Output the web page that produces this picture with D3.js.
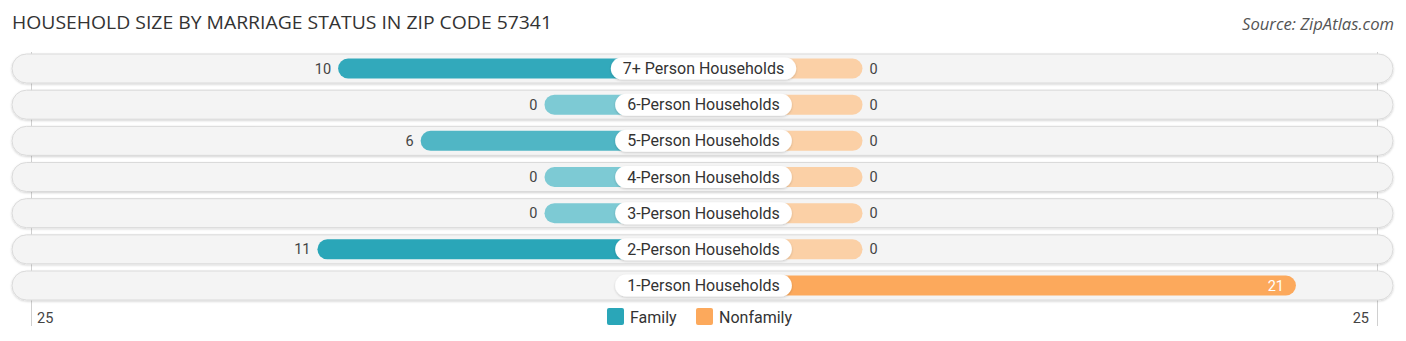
<!DOCTYPE html>
<html><head><meta charset="utf-8">
<script src="https://cdn.jsdelivr.net/npm/d3@7"></script>
<style>body{margin:0;background:#fff;}svg{display:block;}</style>
</head><body>
<script>
const categories = ["7+ Person Households","6-Person Households","5-Person Households","4-Person Households","3-Person Households","2-Person Households","1-Person Households"];
const family = [10,0,6,0,0,11,null];
const nonfamily = [0,0,0,0,0,0,21];
const axisTicks = [25];
const legendLabels = ["Family","Nonfamily"];

const W = 1406, H = 341;
const cx = 703.5;
const svg = d3.select("body").append("svg").attr("width", W).attr("height", H);

svg.append("text").attr("x", 12).attr("y", 29).text("HOUSEHOLD SIZE BY MARRIAGE STATUS IN ZIP CODE 57341")
  .attr("font-family", "'Open Sans', sans-serif").attr("font-size", 18).attr("fill", "#333")
  .attr("textLength", 540).attr("lengthAdjust", "spacingAndGlyphs");
svg.append("text").attr("x", 1394).attr("y", 30).attr("text-anchor", "end").text("Source: ZipAtlas.com")
  .attr("font-family", "'Open Sans', sans-serif").attr("font-style", "italic").attr("font-size", 15.5).attr("fill", "#555")
  .attr("textLength", 152).attr("lengthAdjust", "spacingAndGlyphs");

// distance from center
const len = d3.scaleLinear().domain([0, 25]).range([159, 675]);
const y = d3.scalePoint().domain(categories).range([68.5, 285.5]);
const famColor = d3.scaleLinear().domain([0, d3.max(family)]).range(["#7dcad4", "#2aa6b8"]);
const nonColor = d3.scaleLinear().domain([0, d3.max(nonfamily)]).range(["#fbd0a6", "#fca95c"]);

// grid lines
axisTicks.forEach(t => {
  [cx - len(t) + 2, cx + len(t) - 2].forEach(x => {
    svg.append("line").attr("x1", Math.round(x) + 0.5).attr("x2", Math.round(x) + 0.5).attr("y1", 52).attr("y2", 326)
      .attr("stroke", "#d0d0d0").attr("stroke-width", 1);
  });
});

const defs = svg.append("defs");
const f = defs.append("filter").attr("id", "sh").attr("x", "-5%").attr("y", "-30%").attr("width", "110%").attr("height", "160%");
f.append("feDropShadow").attr("dx", 0).attr("dy", 1).attr("stdDeviation", 1).attr("flood-color", "#000").attr("flood-opacity", 0.18);

const rows = svg.selectAll("g.row").data(categories).enter().append("g").attr("class", "row");

rows.append("rect").attr("x", 12).attr("width", 1381).attr("y", d => y(d) - 14.5).attr("height", 29)
  .attr("rx", 14.5).attr("fill", "#f4f4f4").attr("stroke", "#dadada").attr("stroke-width", 1).attr("filter", "url(#sh)");

rows.filter((d, i) => family[i] !== null)
  .append("rect").attr("x", d => cx - len(family[categories.indexOf(d)])).attr("width", d => len(family[categories.indexOf(d)]))
  .attr("y", d => y(d) - 10).attr("height", 20).attr("rx", 10).attr("fill", d => famColor(family[categories.indexOf(d)]));

rows.filter((d, i) => nonfamily[i] !== null)
  .append("rect").attr("x", cx).attr("width", d => len(nonfamily[categories.indexOf(d)]))
  .attr("y", d => y(d) - 10).attr("height", 20).attr("rx", 10).attr("fill", d => nonColor(nonfamily[categories.indexOf(d)]));

// label pills
rows.each(function(d, i) {
  const g = d3.select(this);
  const t = g.append("text").attr("x", cx).attr("y", y(d) + 5.5).attr("text-anchor", "middle")
    .attr("font-family", "Roboto, sans-serif").attr("font-size", 16).attr("fill", "#333").text(d);
  const w = t.node().getComputedTextLength() + 24;
  g.insert("rect", "text").attr("x", cx - w / 2).attr("width", w).attr("y", y(d) - 11).attr("height", 22)
    .attr("rx", 11).attr("fill", "#fff").attr("filter", "url(#sh)");
  if (family[i] !== null) {
    g.append("text").attr("x", cx - len(family[i]) - 7).attr("y", y(d) + 5).attr("text-anchor", "end")
      .attr("font-family", "Roboto, sans-serif").attr("font-size", 14.5).attr("fill", "#444").text(family[i]);
  }
  const nv = nonfamily[i];
  if (nv !== null) {
    const inside = nv >= 15;
    g.append("text").attr("x", inside ? cx + len(nv) - 12 : cx + len(nv) + 7).attr("y", y(d) + 5)
      .attr("text-anchor", inside ? "end" : "start")
      .attr("font-family", "Roboto, sans-serif").attr("font-size", 14.5).attr("fill", inside ? "#fff" : "#444").text(nv);
  }
});

// axis labels
svg.append("text").attr("x", 37).attr("y", 323).text(axisTicks[0])
  .attr("font-family", "Roboto, sans-serif").attr("font-size", 14.5).attr("fill", "#444");
svg.append("text").attr("x", 1369).attr("y", 323).attr("text-anchor", "end").text(axisTicks[0])
  .attr("font-family", "Roboto, sans-serif").attr("font-size", 14.5).attr("fill", "#444");

// legend
const legColors = ["#2aa6b8", "#fca95c"];
const legX = [607, 696];
legendLabels.forEach((l, i) => {
  svg.append("rect").attr("x", legX[i]).attr("y", 308).attr("width", 17).attr("height", 17).attr("rx", 2).attr("fill", legColors[i]);
  svg.append("text").attr("x", legX[i] + 23).attr("y", 323).text(l)
    .attr("font-family", "Roboto, sans-serif").attr("font-size", 16).attr("fill", "#333");
});
</script>
</body></html>
